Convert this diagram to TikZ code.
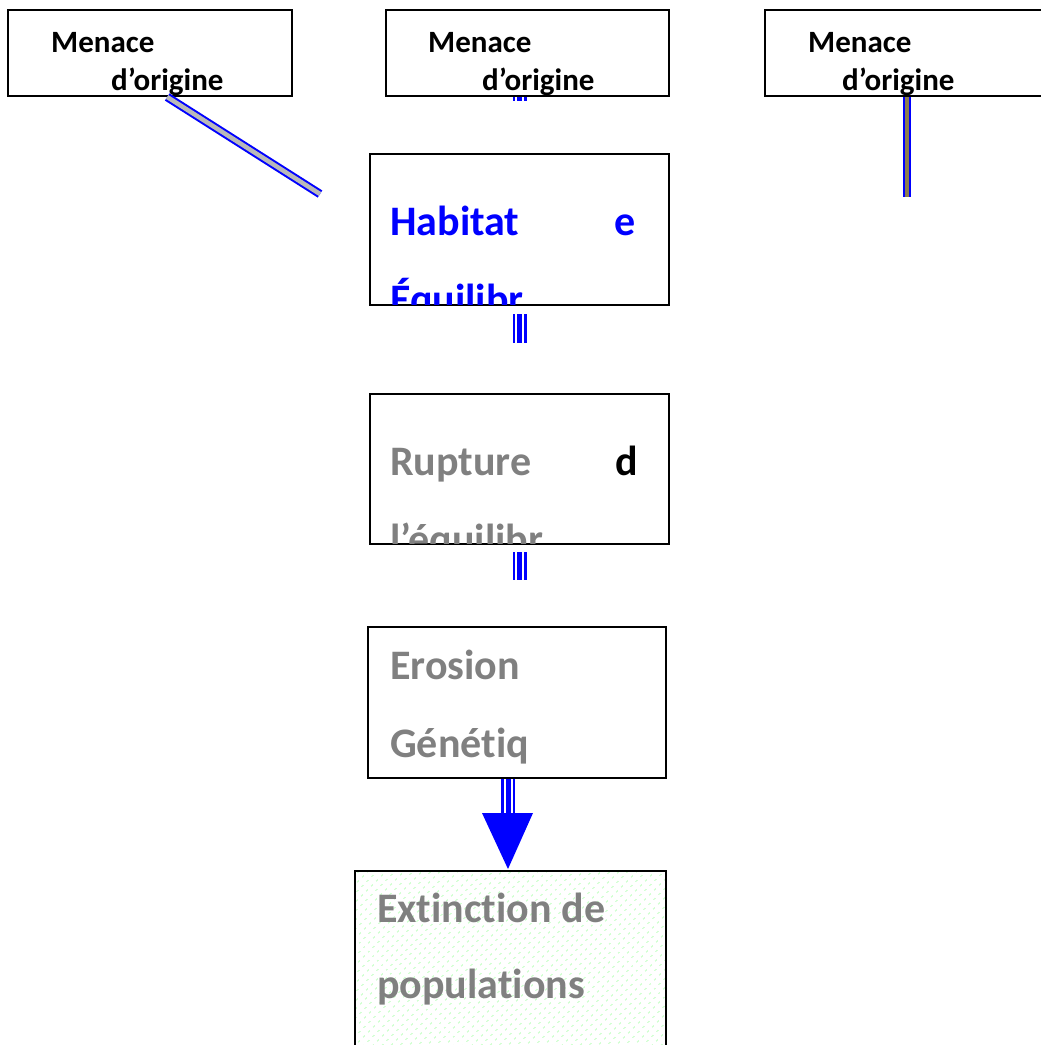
\documentclass[tikz,border=0pt]{standalone}
\usepackage{fontspec}
\setmainfont{Carlito}[Ligatures=NoCommon]
\usepackage{tikz}
\usetikzlibrary{calc, patterns.meta}
\definecolor{olivebrown}{RGB}{140,125,80}

\begin{document}
\begin{tikzpicture}[
    x=1pt, y=-1pt,
    box/.style={draw, line width=2pt, inner sep=0pt},
    threat/.style={font=\fontsize{31}{37}\selectfont\bfseries, anchor=base west, inner sep=0pt},
    stage/.style={font=\fontsize{42}{50}\selectfont\bfseries, anchor=base west, inner sep=0pt, text=gray},
    twin/.style={draw=blue, line width=2pt, double=gray!55, double distance=4.5pt},
    triple/.style={blue, line width=14pt, postaction={draw=white, line width=2pt, double=blue, double distance=5pt}}
]
\useasboundingbox (0,0) rectangle (1041,1045);

% Threat boxes
\node[box, minimum width=284pt, minimum height=86pt] (thrA) at (150,53) {};
\node[box, minimum width=283pt, minimum height=86pt] (thrB) at (527.5,53) {};
\node[box, minimum width=285pt, minimum height=86pt] (thrC) at (907.5,53) {};

\node[threat] (thrAa) at (51,52) {Menace};
\node[threat] (thrAb) at (111,90) {d’origine};
\node[threat] (thrBa) at (428,52) {Menace};
\node[threat] (thrBb) at (482,90) {d’origine};
\node[threat] (thrCa) at (808,52) {Menace};
\node[threat] (thrCb) at (842,90) {d’origine};

% Stage boxes
\node[box, minimum width=299pt, minimum height=151pt] (hab) at (519.5,229.5) {};
\node[box, minimum width=299pt, minimum height=150pt] (rup) at (519.5,469) {};
\node[box, minimum width=298pt, minimum height=151pt] (ero) at (517,702.5) {};
\node[box, minimum width=311pt, minimum height=189pt, pattern={Dots[distance=6.4pt, angle=45, radius=1pt]}, pattern color=green!35] (ext) at (510.5,965.5) {};

% Habitat
\begin{scope}
\clip ($(hab.north west)+(2,2)$) rectangle ($(hab.south east)+(-2,-2)$);
\node[stage, text=blue] (habA) at (390,235) {Habitat};
\node[stage, text=blue] (habB) at (614,235) {e};
\node[stage, text=blue] (habC) at (390,313) {Équilibr};
\end{scope}

% Rupture
\begin{scope}
\clip ($(rup.north west)+(2,2)$) rectangle ($(rup.south east)+(-2,-2)$);
\node[stage] (rupA) at (390,475) {Rupture};
\node[stage, text=black] (rupB) at (615,475) {d};
\node[stage] (rupC) at (390,553) {l’équilibr};
\end{scope}

% Erosion
\node[stage] (eroA) at (390,679) {Erosion};
\node[stage] (eroB) at (390,757) {Génétiq};

% Extinction
\node[stage] (extA) at (377,922) {Extinction de};
\node[stage] (extB) at (377,998) {populations};

% Connectors
\coordinate (leftEnd) at (320,194);
\coordinate (rightEnd) at (907,197);
\coordinate (tip) at (508,869);

\draw[twin] ($(thrA.south west)!0.56!(thrA.south east)$) -- (leftEnd);
\draw[twin, double=olivebrown, line width=1.6pt, double distance=4pt] (thrC.south -| rightEnd) -- (rightEnd);
\draw[triple] (hab.north |- thrB.south) -- ++(0,4);
\draw[triple] ($(hab.south)+(0,8)$) -- ++(0,29);
\draw[triple] ($(rup.south)+(0,7)$) -- ++(0,28);
\draw[triple] (ero.south -| tip) -- ($(tip)+(0,-56)$);
\fill[blue] ($(tip)+(-26,-56)$) -- ($(tip)+(25,-56)$) -- (tip) -- cycle;

\end{tikzpicture}
\end{document}
